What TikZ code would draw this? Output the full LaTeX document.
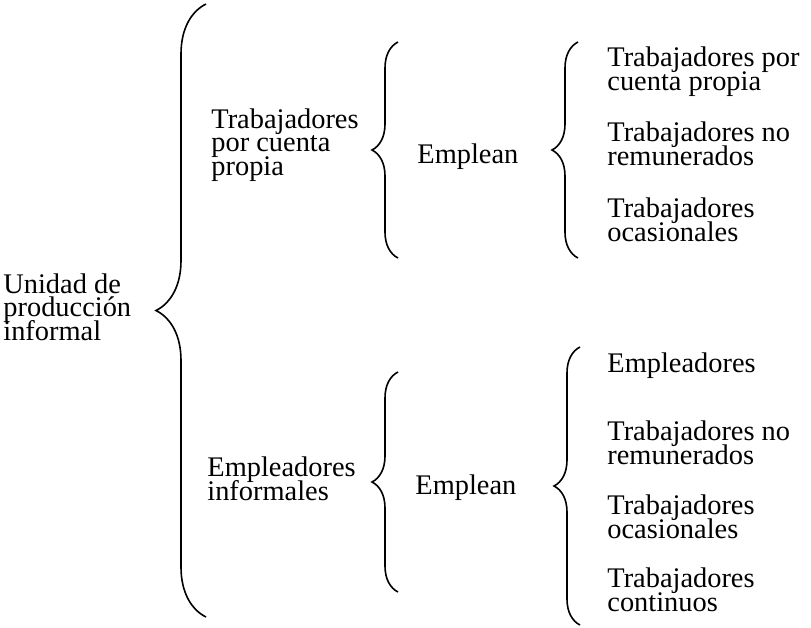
\documentclass[tikz,border=0pt]{standalone}
\usepackage{fontspec}
\setmainfont{Liberation Serif}
\usetikzlibrary{decorations.pathreplacing}
\newcommand\diagfont{\fontsize{14.2}{11.75}\selectfont\lineskiplimit=-20pt\relax}

\begin{document}
\begin{tikzpicture}[x=0.5pt,y=-0.5pt]
    \tikzset{
      txt/.style={anchor=base west,inner sep=0pt,align=left,font=\diagfont},
      curly/.style={draw,line width=0.8pt,decorate,
        decoration={brace,amplitude=#1}},
      curly/.default=13pt
    }
    \useasboundingbox (0,0) rectangle (811,628);
    \node[txt] (upi) at (3,340) {Unidad de\\producción\\informal};
    \node[txt] (tcp) at (211,175) {Trabajadores\\por cuenta\\propia};
    \node[txt] (emi) at (207,500) {Empleadores\\informales};
    \node[txt] (emp1) at (417,163) {Emplean};
    \node[txt] (emp2) at (415,494) {Emplean};
    \node[txt] (tpr) at (607,90) {Trabajadores por\\cuenta propia};
    \node[txt] (tnr1) at (607,165) {Trabajadores no\\remunerados};
    \node[txt] (toc1) at (607,241) {Trabajadores\\ocasionales};
    \node[txt] (epl) at (607,372) {Empleadores};
    \node[txt] (tnr2) at (607,464) {Trabajadores no\\remunerados};
    \node[txt] (toc2) at (607,538) {Trabajadores\\ocasionales};
    \node[txt] (tco) at (607,611) {Trabajadores\\continuos};
    \coordinate (b0t) at (206,4);   \coordinate (b0b) at (206,617);
    \coordinate (b1t) at (398,42);  \coordinate (b1b) at (398,258);
    \coordinate (b2t) at (578,42);  \coordinate (b2b) at (578,258);
    \coordinate (b3t) at (398,372); \coordinate (b3b) at (398,592);
    \coordinate (b4t) at (580,347); \coordinate (b4b) at (580,625);
    \draw[curly=25pt] (b0b) -- (b0t);
    \foreach \a/\b in {b1b/b1t,b2b/b2t,b3b/b3t,b4b/b4t}
      \draw[curly] (\a) -- (\b);
  \end{tikzpicture}
\end{document}
